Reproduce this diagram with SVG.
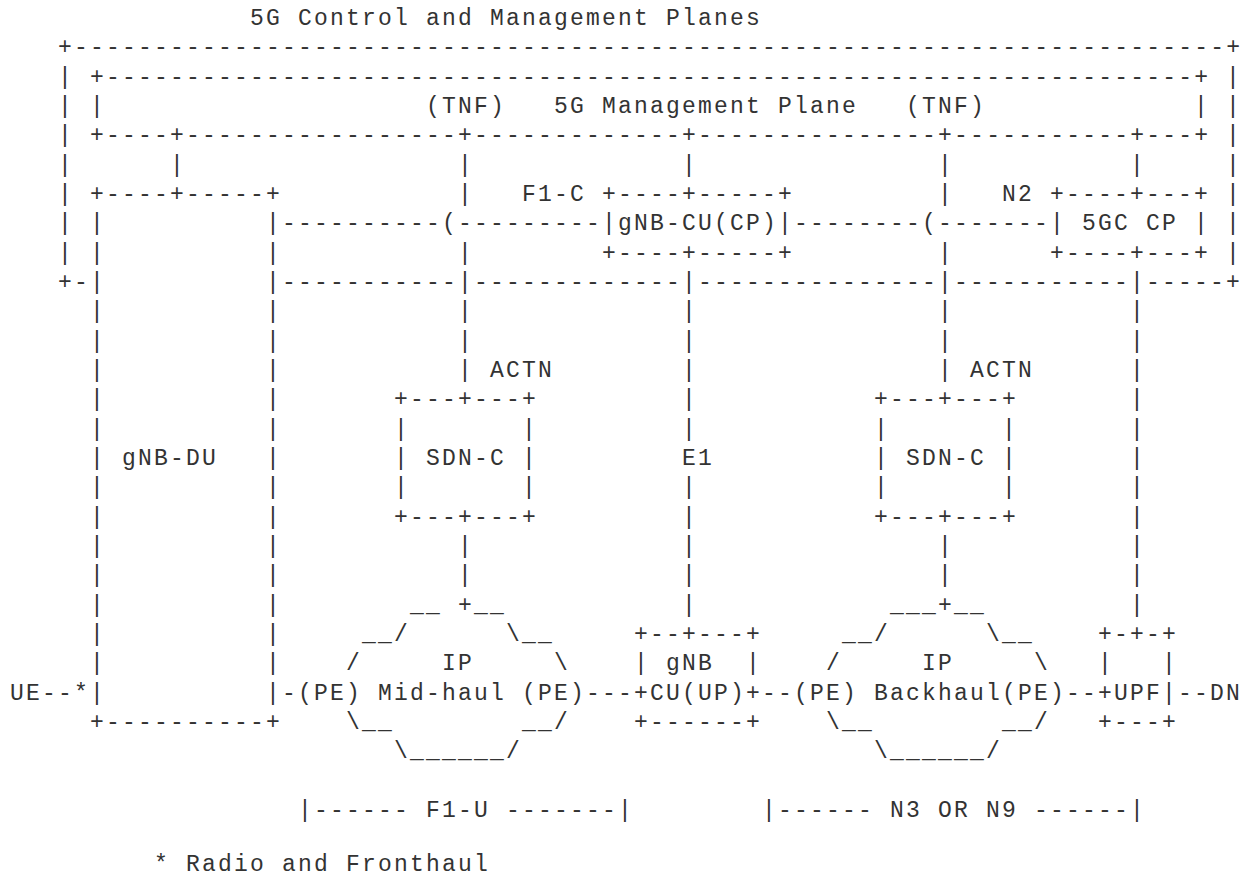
<svg xmlns="http://www.w3.org/2000/svg" width="1251" height="880" viewBox="0 0 1251 880" xml:space="preserve">
<style>
text { font-family: "Liberation Mono", "DejaVu Sans Mono", monospace; font-size: 23px; letter-spacing: 2.2px; fill: #333333; white-space: pre; }
</style>
<rect x="0" y="0" width="1251" height="880" fill="#ffffff"/>

<g id="title">
<text x="250" y="25">5G Control and Management Planes</text>
</g>

<g id="control-management-planes">
<text x="58" y="54.33">+------------------------------------------------------------------------+</text>
<text><tspan x="58" y="83.67">|</tspan><tspan x="58" y="113">|</tspan><tspan x="58" y="142.33">|</tspan><tspan x="58" y="171.67">|</tspan><tspan x="58" y="201">|</tspan><tspan x="58" y="230.33">|</tspan><tspan x="58" y="259.67">|</tspan></text>
<text><tspan x="1226" y="83.67">|</tspan><tspan x="1226" y="113">|</tspan><tspan x="1226" y="142.33">|</tspan><tspan x="1226" y="171.67">|</tspan><tspan x="1226" y="201">|</tspan><tspan x="1226" y="230.33">|</tspan><tspan x="1226" y="259.67">|</tspan></text>
<text x="58" y="289">+-</text>
<text x="282" y="289">-----------</text>
<text x="474" y="289">-------------</text>
<text x="698" y="289">---------------</text>
<text x="954" y="289">-----------</text>
<text x="1146" y="289">-----+</text>
</g>

<g id="management-plane">
<text x="90" y="83.67">+--------------------------------------------------------------------+</text>
<text x="90" y="113">|</text>
<text x="426" y="113">(TNF)</text>
<text x="554" y="113">5G Management Plane</text>
<text x="906" y="113">(TNF)</text>
<text x="1194" y="113">|</text>
<text x="90" y="142.33">+----+-----------------+-------------+---------------+-----------+---+</text>
</g>

<g id="gnb-du">
<text x="90" y="201">+----+-----+</text>
<text><tspan x="90" y="230.33">|</tspan><tspan x="90" y="259.67">|</tspan><tspan x="90" y="289">|</tspan><tspan x="90" y="318.33">|</tspan><tspan x="90" y="347.67">|</tspan><tspan x="90" y="377">|</tspan><tspan x="90" y="406.33">|</tspan><tspan x="90" y="435.67">|</tspan><tspan x="90" y="465">|</tspan><tspan x="90" y="494.33">|</tspan><tspan x="90" y="523.67">|</tspan><tspan x="90" y="553">|</tspan><tspan x="90" y="582.33">|</tspan><tspan x="90" y="611.67">|</tspan><tspan x="90" y="641">|</tspan><tspan x="90" y="670.33">|</tspan><tspan x="90" y="699.67">|</tspan></text>
<text><tspan x="266" y="230.33">|</tspan><tspan x="266" y="259.67">|</tspan><tspan x="266" y="289">|</tspan><tspan x="266" y="318.33">|</tspan><tspan x="266" y="347.67">|</tspan><tspan x="266" y="377">|</tspan><tspan x="266" y="406.33">|</tspan><tspan x="266" y="435.67">|</tspan><tspan x="266" y="465">|</tspan><tspan x="266" y="494.33">|</tspan><tspan x="266" y="523.67">|</tspan><tspan x="266" y="553">|</tspan><tspan x="266" y="582.33">|</tspan><tspan x="266" y="611.67">|</tspan><tspan x="266" y="641">|</tspan><tspan x="266" y="670.33">|</tspan><tspan x="266" y="699.67">|</tspan></text>
<text x="122" y="465">gNB-DU</text>
<text x="90" y="729">+----------+</text>
</g>

<g id="gnb-cu-cp">
<text x="602" y="201">+----+-----+</text>
<text x="602" y="230.33">|gNB-CU(CP)|</text>
<text x="602" y="259.67">+----+-----+</text>
</g>

<g id="5gc-cp">
<text x="1050" y="201">+----+---+</text>
<text x="1050" y="230.33">| 5GC CP |</text>
<text x="1050" y="259.67">+----+---+</text>
</g>

<g id="sdn-c-midhaul">
<text x="394" y="406.33">+---+---+</text>
<text><tspan x="394" y="435.67">|</tspan><tspan x="394" y="465">|</tspan><tspan x="394" y="494.33">|</tspan></text>
<text><tspan x="522" y="435.67">|</tspan><tspan x="522" y="465">|</tspan><tspan x="522" y="494.33">|</tspan></text>
<text x="426" y="465">SDN-C</text>
<text x="394" y="523.67">+---+---+</text>
</g>

<g id="sdn-c-backhaul">
<text x="874" y="406.33">+---+---+</text>
<text><tspan x="874" y="435.67">|</tspan><tspan x="874" y="465">|</tspan><tspan x="874" y="494.33">|</tspan></text>
<text><tspan x="1002" y="435.67">|</tspan><tspan x="1002" y="465">|</tspan><tspan x="1002" y="494.33">|</tspan></text>
<text x="906" y="465">SDN-C</text>
<text x="874" y="523.67">+---+---+</text>
</g>

<g id="ip-midhaul">
<text x="410" y="611.67">__ +__</text>
<text x="362" y="641">__/</text>
<text x="506" y="641">\__</text>
<text x="346" y="670.33">/</text>
<text x="442" y="670.33">IP</text>
<text x="554" y="670.33">\</text>
<text x="298" y="699.67">(PE) Mid-haul (PE)</text>
<text x="346" y="729">\__</text>
<text x="522" y="729">__/</text>
<text x="394" y="758.33">\______/</text>
</g>

<g id="gnb-cu-up">
<text x="634" y="641">+--+---+</text>
<text x="634" y="670.33">| gNB  |</text>
<text x="634" y="699.67">+CU(UP)+</text>
<text x="634" y="729">+------+</text>
</g>

<g id="ip-backhaul">
<text x="890" y="611.67">___+__</text>
<text x="842" y="641">__/</text>
<text x="986" y="641">\__</text>
<text x="826" y="670.33">/</text>
<text x="922" y="670.33">IP</text>
<text x="1034" y="670.33">\</text>
<text x="794" y="699.67">(PE) Backhaul(PE)</text>
<text x="826" y="729">\__</text>
<text x="1002" y="729">__/</text>
<text x="874" y="758.33">\______/</text>
</g>

<g id="upf">
<text x="1098" y="641">+-+-+</text>
<text x="1098" y="670.33">|   |</text>
<text x="1098" y="699.67">+UPF|</text>
<text x="1098" y="729">+---+</text>
</g>

<g id="ue">
<text x="10" y="699.67">UE</text>
</g>

<g id="dn">
<text x="1210" y="699.67">DN</text>
</g>

<g id="connectors">
<text x="170" y="171.67">|</text>
<text><tspan x="458" y="171.67">|</tspan><tspan x="458" y="201">|</tspan><tspan x="458" y="259.67">|</tspan><tspan x="458" y="289">|</tspan><tspan x="458" y="318.33">|</tspan><tspan x="458" y="347.67">|</tspan><tspan x="458" y="377">|</tspan><tspan x="458" y="553">|</tspan><tspan x="458" y="582.33">|</tspan></text>
<text><tspan x="682" y="171.67">|</tspan><tspan x="682" y="289">|</tspan><tspan x="682" y="318.33">|</tspan><tspan x="682" y="347.67">|</tspan><tspan x="682" y="377">|</tspan><tspan x="682" y="406.33">|</tspan><tspan x="682" y="435.67">|</tspan><tspan x="682" y="494.33">|</tspan><tspan x="682" y="523.67">|</tspan><tspan x="682" y="553">|</tspan><tspan x="682" y="582.33">|</tspan><tspan x="682" y="611.67">|</tspan></text>
<text><tspan x="938" y="171.67">|</tspan><tspan x="938" y="201">|</tspan><tspan x="938" y="259.67">|</tspan><tspan x="938" y="289">|</tspan><tspan x="938" y="318.33">|</tspan><tspan x="938" y="347.67">|</tspan><tspan x="938" y="377">|</tspan><tspan x="938" y="553">|</tspan><tspan x="938" y="582.33">|</tspan></text>
<text><tspan x="1130" y="171.67">|</tspan><tspan x="1130" y="289">|</tspan><tspan x="1130" y="318.33">|</tspan><tspan x="1130" y="347.67">|</tspan><tspan x="1130" y="377">|</tspan><tspan x="1130" y="406.33">|</tspan><tspan x="1130" y="435.67">|</tspan><tspan x="1130" y="465">|</tspan><tspan x="1130" y="494.33">|</tspan><tspan x="1130" y="523.67">|</tspan><tspan x="1130" y="553">|</tspan><tspan x="1130" y="582.33">|</tspan><tspan x="1130" y="611.67">|</tspan></text>
<text x="282" y="230.33">----------(---------</text>
<text x="794" y="230.33">--------(-------</text>
<text x="522" y="201">F1-C</text>
<text x="1002" y="201">N2</text>
<text x="490" y="377">ACTN</text>
<text x="970" y="377">ACTN</text>
<text x="682" y="465">E1</text>
<text x="42" y="699.67">--*</text>
<text x="282" y="699.67">-</text>
<text x="586" y="699.67">---</text>
<text x="762" y="699.67">--</text>
<text x="1066" y="699.67">--</text>
<text x="1178" y="699.67">--</text>
<text x="298" y="817">|------ F1-U -------|</text>
<text x="762" y="817">|------ N3 OR N9 ------|</text>
</g>

<g id="footnote">
<text x="154" y="871">* Radio and Fronthaul</text>
</g>
</svg>
